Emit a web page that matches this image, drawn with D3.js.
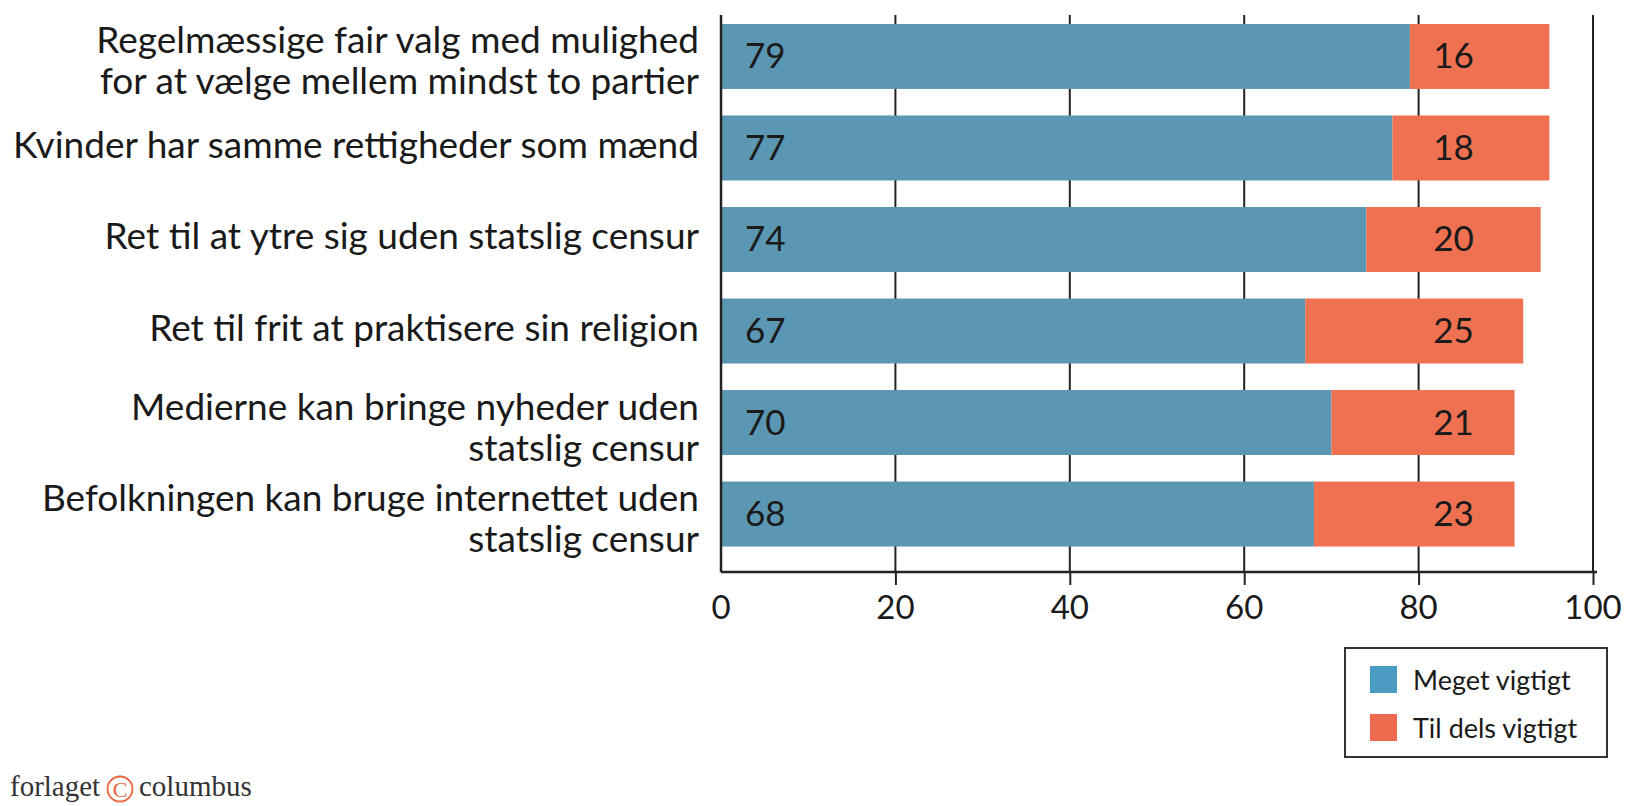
<!DOCTYPE html>
<html>
<head>
<meta charset="UTF-8">
<title>Vigtige rettigheder</title>
<script src="https://d3js.org/d3.v7.min.js"></script>
<style>
body { margin: 0; background: #fff; }
svg text { fill: #1a1a1a; }
</style>
</head>
<body>

<figure class=chart style="margin:0"></figure>

<script type="text/javascript">

/* Data */
var categories = [
	['Regelmæssige fair valg med mulighed', 'for at vælge mellem mindst to partier'],
	['Kvinder har samme rettigheder som mænd'],
	['Ret til at ytre sig uden statslig censur'],
	['Ret til frit at praktisere sin religion'],
	['Medierne kan bringe nyheder uden', 'statslig censur'],
	['Befolkningen kan bruge internettet uden', 'statslig censur']
];
var meget = [79, 77, 74, 67, 70, 68];
var tilDels = [16, 18, 20, 25, 21, 23];
var seriesNames = ['Meget vigtigt', 'Til dels vigtigt'];
var tickValues = [0, 20, 40, 60, 80, 100];

/* Global variables */
var W = 1652, H = 806
var axisY = 572
var barColor = ['#5b96b3', '#ee7152']
var legendColor = ['#4a9ac1', '#ee6a4e']
var labelFont = 'Lato, "Open Sans", sans-serif'

var x = d3.scaleLinear()
	.domain([0, 100])
	.range([721, 1593])
var y = d3.scaleBand()
	.domain(d3.range(categories.length))
	.range([10.7, 559.8])
	.paddingInner(0.29)
	.paddingOuter(0.145)

var svg = d3.select('figure')
	.append('svg')
	.attr('width', W)
	.attr('height', H)

/* Functions */

function draw_grid() {
	svg.append('g')
		.selectAll('line')
		.data(tickValues.slice(1))
		.enter()
		.append('line')
		.attr('x1', function(d) { return x(d); })
		.attr('x2', function(d) { return x(d); })
		.attr('y1', 15)
		.attr('y2', axisY)
		.style('stroke', '#222')
		.style('stroke-width', 2)
}

function draw_bars() {
	var rows = svg.append('g')
		.selectAll('g')
		.data(categories)
		.enter()
		.append('g')

	rows.append('rect')
		.attr('x', x(0))
		.attr('y', function(d, i) { return y(i); })
		.attr('width', function(d, i) { return x(meget[i]) - x(0); })
		.attr('height', y.bandwidth())
		.style('fill', barColor[0])

	rows.append('rect')
		.attr('x', function(d, i) { return x(meget[i]); })
		.attr('y', function(d, i) { return y(i); })
		.attr('width', function(d, i) { return x(meget[i] + tilDels[i]) - x(meget[i]); })
		.attr('height', y.bandwidth())
		.style('fill', barColor[1])

	// values: blue ones near the axis, orange ones on a common column
	rows.append('text')
		.attr('x', x(0) + 24)
		.attr('y', function(d, i) { return y(i) + y.bandwidth() / 2 + 12; })
		.style('font', '35px ' + labelFont)
		.text(function(d, i) { return meget[i]; })

	rows.append('text')
		.attr('x', x(84))
		.attr('y', function(d, i) { return y(i) + y.bandwidth() / 2 + 12; })
		.attr('text-anchor', 'middle')
		.style('font', '35px ' + labelFont)
		.text(function(d, i) { return tilDels[i]; })

	// category labels
	var labels = rows.append('text')
		.attr('text-anchor', 'end')
		.style('font', '37px ' + labelFont)
	labels.selectAll('tspan')
		.data(function(d, i) { return d.map(function(t, j) { return {t: t, j: j, n: d.length, i: i}; }); })
		.enter()
		.append('tspan')
		.attr('x', 699)
		.attr('y', function(d) {
			var c = y(d.i) + y.bandwidth() / 2;
			if (d.n == 1) { return c + 10; }
			return c - 3 + d.j * 41;
		})
		.text(function(d) { return d.t; })
}

function draw_axes() {
	var ax = svg.append('g')
		.attr('transform', 'translate(0,' + axisY + ')')
		.call(d3.axisBottom(x).tickValues(tickValues.slice(1)).tickSize(13).tickFormat(''))
	ax.select('.domain').remove()
	ax.selectAll('line').style('stroke', '#222').style('stroke-width', 2)

	svg.append('g')
		.selectAll('text')
		.data(tickValues)
		.enter()
		.append('text')
		.attr('x', function(d) { return x(d); })
		.attr('y', 619)
		.attr('text-anchor', 'middle')
		.style('font', '33px ' + labelFont)
		.text(function(d) { return d; })

	svg.append('line')
		.attr('x1', x(0)).attr('x2', x(100) + 4)
		.attr('y1', axisY).attr('y2', axisY)
		.style('stroke', '#222').style('stroke-width', 2.5)
	svg.append('line')
		.attr('x1', x(0)).attr('x2', x(0))
		.attr('y1', 15).attr('y2', axisY)
		.style('stroke', '#222').style('stroke-width', 2.5)
}

function draw_legend() {
	var g = svg.append('g')
	g.append('rect')
		.attr('x', 1345).attr('y', 648)
		.attr('width', 262).attr('height', 109)
		.style('fill', 'none').style('stroke', '#333').style('stroke-width', 2)
	var items = g.selectAll('g')
		.data(seriesNames)
		.enter()
		.append('g')
		.attr('transform', function(d, i) { return 'translate(1370,' + (666 + i * 48) + ')'; })
	items.append('rect')
		.attr('width', 27).attr('height', 27)
		.style('fill', function(d, i) { return legendColor[i]; })
	items.append('text')
		.attr('x', 43).attr('y', 24)
		.style('font', '27px ' + labelFont)
		.text(function(d) { return d; })
}

function draw_footer() {
	var g = svg.append('g').style('font', '29px "Liberation Serif", serif')
	g.append('text').attr('x', 10).attr('y', 796).style('fill', '#333').text('forlaget')
	g.append('circle')
		.attr('cx', 120).attr('cy', 789).attr('r', 12.5)
		.style('fill', 'none').style('stroke', '#e8643f').style('stroke-width', 1.8)
	g.append('text').attr('x', 120).attr('y', 797).attr('text-anchor', 'middle')
		.style('font-size', '22px').style('fill', '#e8643f').text('C')
	g.append('text').attr('x', 139).attr('y', 796).style('fill', '#333').text('columbus')
}

/* Main code */
draw_grid()
draw_bars()
draw_axes()
draw_legend()
draw_footer()

</script>

</body>
</html>
